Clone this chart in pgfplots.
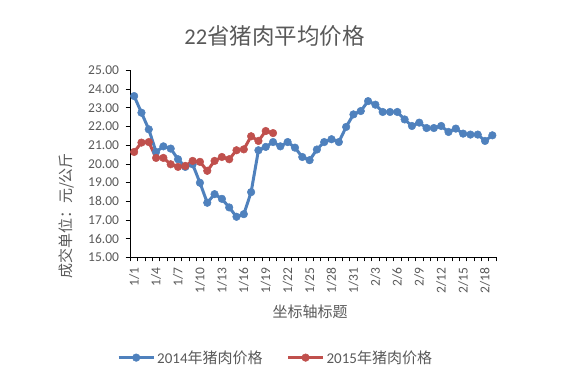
\documentclass[border=0pt]{standalone}
\usepackage{pgfplots}
\pgfplotsset{compat=1.18}
\usepackage{fontspec}
\setmainfont{Carlito}
\newfontfamily\cjk{Noto Sans CJK SC}
\definecolor{txt}{HTML}{595959}
\definecolor{sblue}{HTML}{4F81BD}
\definecolor{sred}{HTML}{C0504D}
\begin{document}
\begin{tikzpicture}[x=1bp,y=1bp]
\useasboundingbox (0,0) rectangle (580,374);
\begin{axis}[
  at={(130.5bp,116.7bp)}, anchor=south west,
  scale only axis, width=365.5bp, height=186.8bp,
  xmin=-0.5, xmax=49.5, ymin=15, ymax=25,
  axis x line*=bottom, axis y line*=left,
  axis line style={black, line width=0.75bp, -},
  tick align=outside,
  xtick={0,3,...,48},
  xticklabels={1/1,1/4,1/7,1/10,1/13,1/16,1/19,1/22,1/25,1/28,1/31,2/3,2/6,2/9,2/12,2/15,2/18},
  every major x tick/.append style={draw=none},
  minor xtick={-0.5,0.5,...,49.5},
  minor tick length=4bp,
  major tick length=5bp,
  ytick={15,16,...,25},
  tick style={black, line width=0.75bp},
  x tick label style={rotate=90, anchor=east, font=\fontsize{13.5bp}{14bp}\selectfont, text=txt, yshift=0bp, xshift=-2bp},
  y tick label style={font=\fontsize{13.5bp}{14bp}\selectfont, text=txt, xshift=-3bp},
  yticklabel style={/pgf/number format/.cd, fixed, fixed zerofill, precision=2, assume math mode=true},
  legend style={at={(axis description cs:0.397,-0.537)}, anchor=center, draw=none, fill=none,
    legend columns=2, font=\fontsize{15bp}{16bp}\selectfont, text=txt,
    /tikz/every even column/.append style={column sep=22bp}, inner sep=0pt},
  legend image code/.code={\draw[mark repeat=2,mark phase=2,#1] plot coordinates {(0bp,0bp)(17.5bp,0bp)(35bp,0bp)};},
]
\addplot[sblue, line width=3bp, mark=*, mark size=3.8bp, mark options={solid, fill=sblue, draw=sblue, line width=0.5bp}] coordinates {
(0,23.63)(1,22.74)(2,21.85)(3,20.64)(4,20.94)(5,20.82)(6,20.25)(7,19.84)(8,19.98)(9,18.99)
(10,17.92)(11,18.38)(12,18.13)(13,17.67)(14,17.17)(15,17.31)(16,18.49)(17,20.73)(18,20.91)(19,21.17)
(20,20.94)(21,21.17)(22,20.87)(23,20.37)(24,20.20)(25,20.77)(26,21.17)(27,21.32)(28,21.17)(29,21.98)
(30,22.65)(31,22.83)(32,23.36)(33,23.17)(34,22.78)(35,22.78)(36,22.78)(37,22.38)(38,22.03)(39,22.21)
(40,21.92)(41,21.92)(42,22.03)(43,21.71)(44,21.89)(45,21.62)(46,21.57)(47,21.57)(48,21.23)(49,21.53)
};
\addlegendentry{2014{\cjk 年猪肉价格}}
\addplot[sred, line width=3bp, mark=*, mark size=3.8bp, mark options={solid, fill=sred, draw=sred, line width=0.5bp}] coordinates {
(0,20.64)(1,21.14)(2,21.17)(3,20.32)(4,20.32)(5,19.98)(6,19.84)(7,19.89)(8,20.16)(9,20.11)
(10,19.63)(11,20.16)(12,20.37)(13,20.25)(14,20.73)(15,20.78)(16,21.48)(17,21.23)(18,21.76)(19,21.65)
};
\addlegendentry{2015{\cjk 年猪肉价格}}
\end{axis}
\node[font=\fontsize{22.5bp}{24bp}\selectfont, text=txt] at (274.5,338) {22{\cjk 省猪肉平均价格}};
\node[font=\fontsize{15bp}{16bp}\selectfont\cjk, text=txt] at (310,62) {坐标轴标题};
\node[font=\fontsize{15bp}{16bp}\selectfont\cjk, text=txt, rotate=90] at (66,158) {成交单位：元/公斤};
\end{tikzpicture}
\end{document}
